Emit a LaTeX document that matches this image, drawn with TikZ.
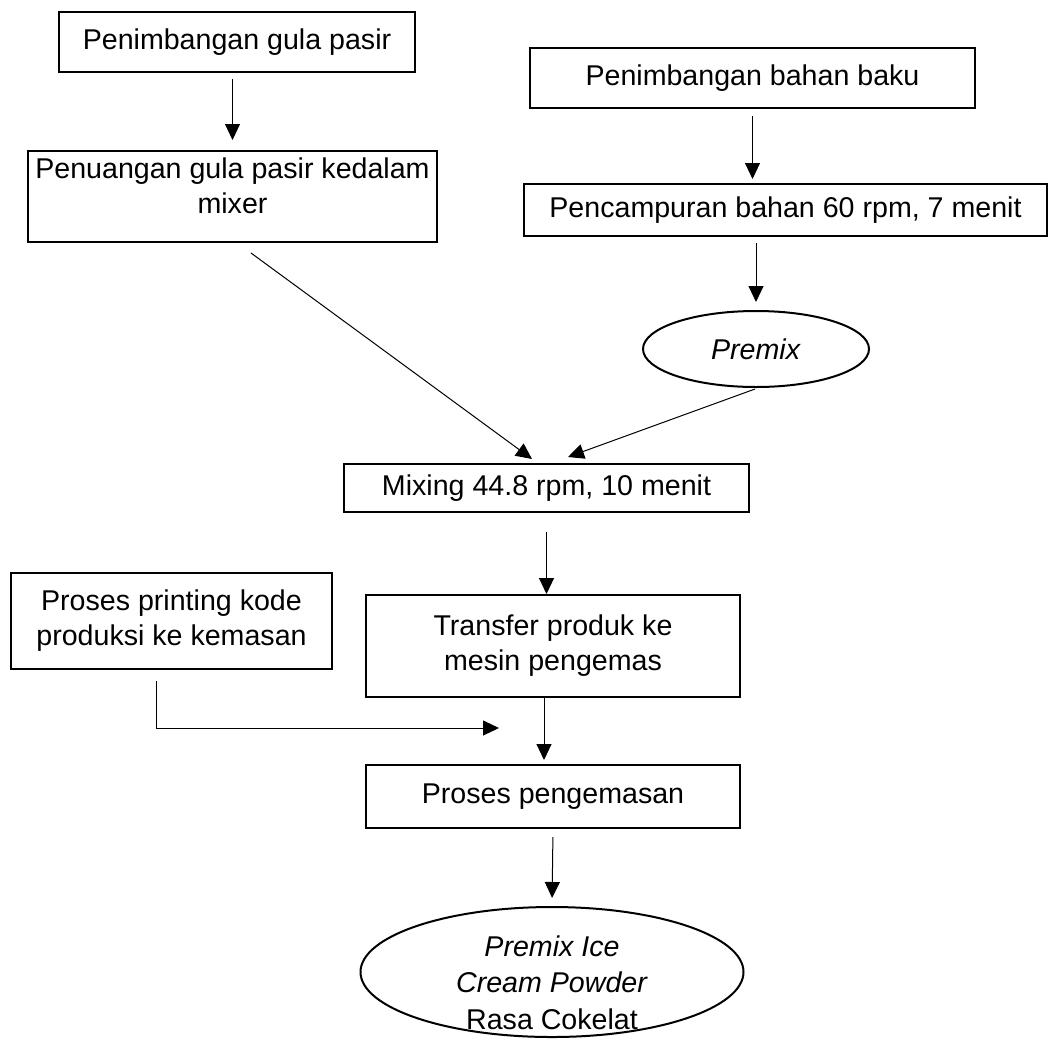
\documentclass[tikz,border=0pt]{standalone}
\usepackage{fontspec}
\setmainfont{Liberation Sans}
\usetikzlibrary{arrows.meta,calc,shapes.geometric}
\tikzset{
  langkah/.style={rectangle, draw, line width=1pt, align=center,
                  inner sep=2pt, font=\fontsize{14.3}{17.5}\selectfont},
  hasil/.style  ={ellipse, draw, line width=1pt, align=center,
                  inner xsep=0pt, inner ysep=-8pt, font=\fontsize{14.3}{18.3}\selectfont},
  % thin flow arrow, gaps at both ends set per arrow
  arr/.style    ={line width=0.5pt, -{Triangle[length=8pt,width=7.5pt]}},
}

\begin{document}
\begin{tikzpicture}[x=0.5pt,y=-0.5pt]
\useasboundingbox (0,0) rectangle (1064,1039);
\foreach \n/\x/\y/\w/\h/\t in {%
   gula/237/42/356/60/{Penimbangan gula pasir},
   tuang/232.5/196.5/409/91/{Penuangan gula pasir kedalam\\mixer\rule[-11pt]{0pt}{0pt}},
   bahan/752.5/78/445/60/{Penimbangan bahan baku},
   campur/785.5/210/523/52/{Pencampuran bahan 60 rpm, 7 menit},
   mixing/546.5/488/405/48/{Mixing 44.8 rpm, 10 menit},
   cetak/171.5/621/321/96/{Proses printing kode\\produksi ke kemasan},
   transfer/553/646/374/102/{Transfer produk ke\\mesin pengemas},
   kemas/553/796.5/374/63/{Proses pengemasan}}
  {\node[langkah, minimum width=\w*0.5pt, minimum height=\h*0.5pt] (\n) at (\x,\y) {\t};}
\node[hasil, minimum width=113pt, minimum height=38pt, inner ysep=0pt] (premix) at (756,349) {\textit{Premix}};
\node[hasil, minimum width=191.5pt, minimum height=65pt] (produk) at (552,972)
   {\rule{0pt}{21pt}\textit{Premix Ice}\\\textit{Cream Powder}\\Rasa Cokelat};
\coordinate (masuk) at ($(transfer.south)+(-54,30)$);

\draw[arr, shorten <=3pt, shorten >=5pt] (tuang.north |- gula.south) -- (tuang.north);
\draw[arr, shorten <=3.5pt, shorten >=2pt] (bahan.south) -- (bahan.south |- campur.north);
\draw[arr, shorten <=3pt, shorten >=4pt] (premix.north |- campur.south) -- (premix.north);
\draw[arr] ($(tuang.south)+(18.5,10)$) -- ($(mixing.north)+(-14.5,-4)$);
\draw[arr] ($(premix.south)+(-1,1)$) -- ($(mixing.north)+(21.5,-6)$);
\draw[arr, shorten <=9.5pt] (mixing.south) -- (mixing.south |- transfer.north);
\draw[arr, shorten >=2pt] ([xshift=-4.5pt]transfer.south) -- ([xshift=-4.5pt]kemas.north);
\draw[arr, shorten <=4pt, shorten >=4pt] (kemas.south) -- (produk.north);
\draw[arr] ($(cetak.south)+(-15.5,11)$) |- (masuk);
\end{tikzpicture}
\end{document}
